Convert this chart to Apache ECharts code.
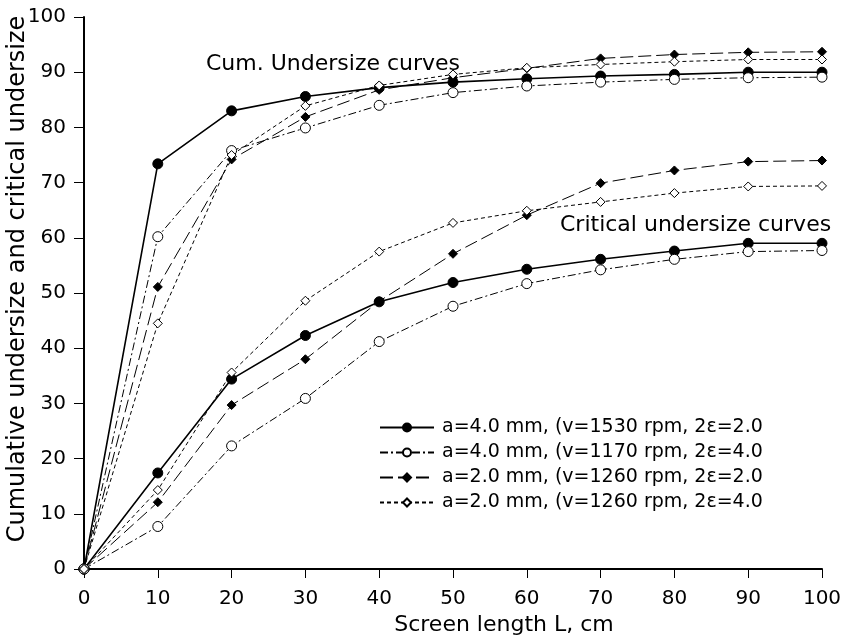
<!DOCTYPE html>
<html>
<head>
<meta charset="utf-8">
<script src="https://cdn.jsdelivr.net/npm/echarts@6/dist/echarts.min.js"></script>
<style>
  html, body { margin: 0; padding: 0; background: #fff; }
  #chart { width: 842px; height: 637px; }
</style>
</head>
<body>
<div id="chart"></div>
<script>
// screen length L, cm
const lengths = [0, 10, 20, 30, 40, 50, 60, 70, 80, 90, 100];

const seriesNames = [
  "a=4.0 mm, (v=1530 rpm, 2ε=2.0",
  "a=4.0 mm, (v=1170 rpm, 2ε=4.0",
  "a=2.0 mm, (v=1260 rpm, 2ε=2.0",
  "a=2.0 mm, (v=1260 rpm, 2ε=4.0"
];

// cumulative undersize curves
const cum1 = [0, 73.4, 83.0, 85.6, 87.2, 88.2, 88.8, 89.3, 89.6, 90.0, 90.0];
const cum2 = [0, 60.2, 75.8, 79.9, 84.0, 86.3, 87.5, 88.2, 88.7, 89.0, 89.1];
const cum3 = [0, 51.1, 74.2, 81.9, 86.8, 89.0, 90.7, 92.5, 93.2, 93.6, 93.7];
const cum4 = [0, 44.5, 75.0, 83.9, 87.6, 89.6, 90.8, 91.4, 91.9, 92.3, 92.3];

// critical undersize curves
const crit1 = [0, 17.4, 34.4, 42.3, 48.4, 51.9, 54.3, 56.1, 57.6, 59.0, 59.0];
const crit2 = [0, 7.7, 22.3, 30.9, 41.2, 47.6, 51.7, 54.2, 56.1, 57.5, 57.7];
const crit3 = [0, 12.1, 29.7, 38.0, 48.5, 57.1, 64.1, 69.9, 72.2, 73.8, 74.0];
const crit4 = [0, 14.3, 35.6, 48.6, 57.5, 62.7, 64.9, 66.5, 68.1, 69.3, 69.4];

const font = "DejaVu Sans";

// 4 line styles like the printed figure
const styles = [
  { symbol: "circle", size: 10, fill: "#000", dash: "solid", width: 1.6 },
  { symbol: "circle", size: 10, fill: "#fff", dash: [8, 3, 2, 3], width: 1 },
  { symbol: "diamond", size: 9, fill: "#000", dash: [13, 5], width: 1 },
  { symbol: "diamond", size: 9, fill: "#fff", dash: [4, 3], width: 1 }
];

const makeSeries = (idx, data) => {
  const st = styles[idx];
  return {
    name: seriesNames[idx],
    type: "line",
    data: data.map((v, i) => [lengths[i], v]),
    symbol: st.symbol,
    symbolSize: st.size,
    showAllSymbol: true,
    lineStyle: { color: "#000", width: st.width, type: st.dash },
    itemStyle: { color: st.fill, borderColor: "#000", borderWidth: 1 },
    emphasis: { disabled: true }
  };
};

const chart = echarts.init(document.getElementById("chart"));

const option = {
  animation: false,
  grid: { left: 84, right: 20, top: 17, bottom: 68, outerBoundsMode: "none", containLabel: false },
  legend: {
    orient: "vertical",
    left: 374,
    top: 413,
    itemWidth: 54,
    itemHeight: 10,
    itemGap: 6,
    data: seriesNames,
    textStyle: { fontFamily: font, fontSize: 19, color: "#000", padding: [0, 0, 0, 3] }
  },
  graphic: [
    {
      type: "text",
      left: 206,
      top: 53,
      style: { text: "Cum. Undersize curves", font: "22px " + font, fill: "#000" }
    },
    {
      type: "text",
      left: 560,
      top: 214,
      style: { text: "Critical undersize curves", font: "22px " + font, fill: "#000" }
    },
    // y axis title, drawn by hand so it sits where the original has it
    {
      type: "text",
      x: 18,
      y: 279,
      rotation: Math.PI / 2,
      style: {
        text: "Cumulative undersize and critical undersize",
        font: "24px " + font,
        fill: "#000",
        align: "center",
        verticalAlign: "middle"
      }
    }
  ],
  xAxis: {
    type: "value",
    min: 0,
    max: 100,
    interval: 10,
    name: "Screen length L, cm",
    nameLocation: "middle",
    nameGap: 43,
    nameTextStyle: { fontFamily: font, fontSize: 22, color: "#000", padding: [0, 0, 0, 102] },
    axisLine: { lineStyle: { color: "#000", width: 2 } },
    axisTick: { length: 9, lineStyle: { color: "#000" } },
    axisLabel: { fontFamily: font, fontSize: 20, color: "#000", margin: 20 },
    splitLine: { show: false }
  },
  yAxis: {
    type: "value",
    min: 0,
    max: 100,
    interval: 10,
    axisLine: { show: true, lineStyle: { color: "#000", width: 2 } },
    axisTick: { show: true, length: 10, lineStyle: { color: "#000" } },
    axisLabel: { fontFamily: font, fontSize: 20, color: "#000", margin: 18 },
    splitLine: { show: false }
  },
  series: [
    makeSeries(0, cum1),
    makeSeries(1, cum2),
    makeSeries(2, cum3),
    makeSeries(3, cum4),
    makeSeries(0, crit1),
    makeSeries(1, crit2),
    makeSeries(2, crit3),
    makeSeries(3, crit4)
  ]
};

chart.setOption(option);
</script>
</body>
</html>
